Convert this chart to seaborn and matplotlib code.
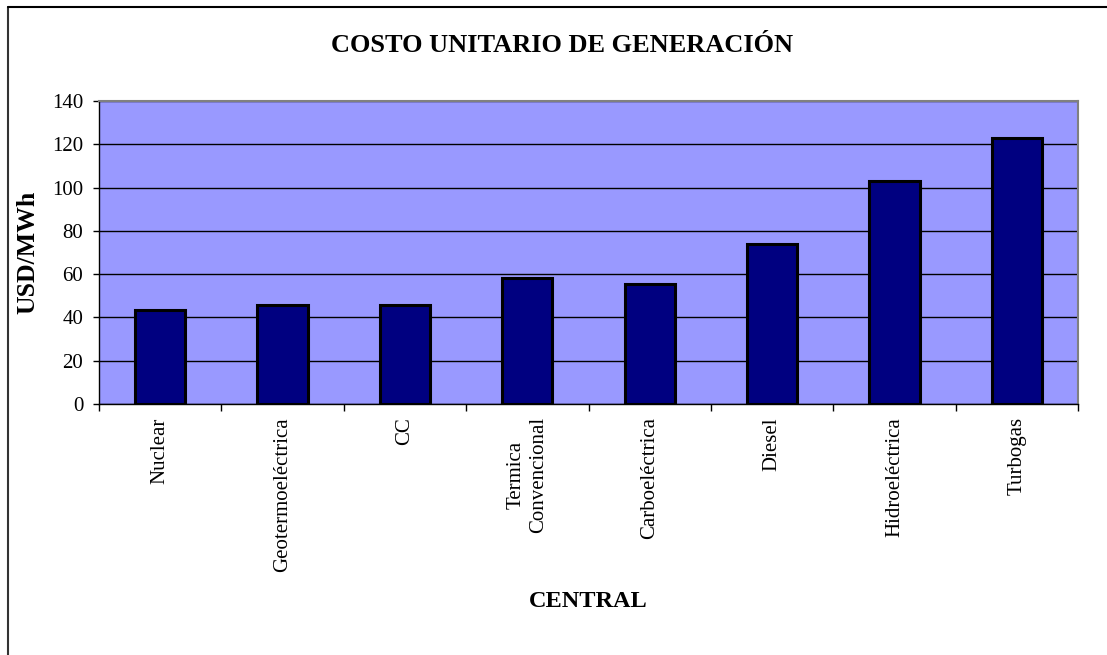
import matplotlib
matplotlib.use('Agg')
import matplotlib.pyplot as plt
from matplotlib.lines import Line2D
import seaborn as sns
import pandas as pd
import numpy as np

# Data
centrales = ['Nuclear', 'Geotermoeléctrica', 'CC', 'Termica\nConvencional',
             'Carboeléctrica', 'Diesel', 'Hidroeléctrica', 'Turbogas']
costo_usd_mwh = [43.5, 45.7, 45.7, 58.0, 55.5, 74.0, 103.0, 123.0]
y_ticks = [0, 20, 40, 60, 80, 100, 120, 140]

df = pd.DataFrame({'central': centrales, 'costo': costo_usd_mwh})

sns.set_theme(style='white')
plt.rcParams['font.family'] = ['Liberation Serif', 'DejaVu Serif']
plt.rcParams['text.color'] = 'black'
plt.rcParams['axes.labelcolor'] = 'black'
plt.rcParams['xtick.color'] = 'black'
plt.rcParams['ytick.color'] = 'black'

fig = plt.figure(figsize=(11.07, 6.55), dpi=100)
ax = fig.add_axes([99 / 1107, 1 - 404 / 655, (1078 - 99) / 1107, (404 - 101) / 655])
ax.set_facecolor('#9999FF')

sns.barplot(data=df, x='central', y='costo', ax=ax, color='#000080',
            saturation=1, width=0.41, edgecolor='black', linewidth=2.2, zorder=3)

ax.set_ylim(0, 140)
ax.set_xlim(-0.5, len(centrales) - 0.5)
ax.set_yticks(y_ticks)
ax.yaxis.grid(True, color='black', linewidth=1)
ax.set_axisbelow(True)
ax.tick_params(axis='y', length=4.3, width=1, color='black', labelsize=15, pad=7, left=True)

# category labels on major ticks, tick marks at category boundaries
ax.set_xticks(range(len(centrales)))
ax.set_xticklabels(centrales, rotation=90, fontsize=15, va='top', ha='center', multialignment='center')
ax.tick_params(axis='x', which='major', length=0, pad=9.5)
ax.set_xticks(np.arange(-0.5, len(centrales), 1), minor=True)
ax.tick_params(axis='x', which='minor', length=5, width=1, color='black', bottom=True)

for side in ['left', 'bottom']:
    ax.spines[side].set_color('black')
    ax.spines[side].set_linewidth(1)
for side in ['top', 'right']:
    ax.spines[side].set_color('#808080')
    ax.spines[side].set_linewidth(1.5)

ax.set_xlabel('CENTRAL', fontsize=17.5, fontweight='bold', va='center')
ax.set_ylabel('USD/MWh', fontsize=18.5, fontweight='bold', va='center')
ax.xaxis.set_label_coords(0.5, -0.653)
ax.yaxis.set_label_coords(-0.0725, 0.5)

fig.text(562.5 / 1107, 1 - 45 / 655, 'COSTO UNITARIO DE GENERACIÓN', ha='center', va='center',
         fontsize=19, fontweight='bold')

# chart frame (left and top edges visible in reference)
fig.add_artist(Line2D([8 / 1107, 8 / 1107], [0, 1 - 7 / 655], transform=fig.transFigure,
                      color='#333333', linewidth=1.5))
fig.add_artist(Line2D([8 / 1107, 1], [1 - 7 / 655, 1 - 7 / 655], transform=fig.transFigure,
                      color='black', linewidth=1.5))

fig.savefig('out.png', dpi=100, facecolor='white')
